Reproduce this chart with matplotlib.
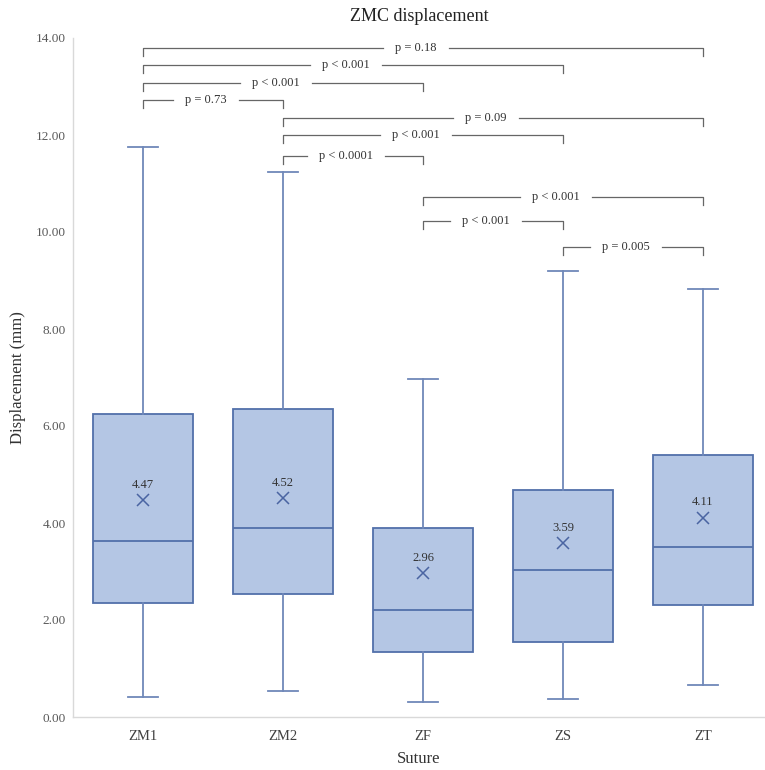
import matplotlib
matplotlib.use("Agg")
import matplotlib.pyplot as plt

plt.rcParams['font.family'] = ['Liberation Serif', 'DejaVu Serif']

# data
sutures = ['ZM1', 'ZM2', 'ZF', 'ZS', 'ZT']
whislo = [0.41, 0.54, 0.31, 0.37, 0.66]
q1 = [2.35, 2.54, 1.34, 1.55, 2.31]
med = [3.63, 3.90, 2.21, 3.03, 3.51]
q3 = [6.25, 6.35, 3.90, 4.68, 5.40]
whishi = [11.75, 11.24, 6.97, 9.20, 8.82]
means = [4.47, 4.52, 2.96, 3.59, 4.11]

# significance brackets (group index from 1)
pair_left = [1, 1, 1, 1, 2, 2, 2, 3, 3, 4]
pair_right = [5, 4, 3, 2, 5, 4, 3, 5, 4, 5]
bracket_y = [13.79, 13.44, 13.07, 12.72, 12.35, 12.00, 11.57, 10.72, 10.23, 9.69]
p_labels = ['p = 0.18', 'p < 0.001', 'p < 0.001', 'p = 0.73', 'p = 0.09',
            'p < 0.001', 'p < 0.0001', 'p < 0.001', 'p < 0.001', 'p = 0.005']

fill = '#b4c6e4'
edge = '#5270aa'
whisk = '#6f88b9'
grey = '#d9d9d9'

fig = plt.figure(figsize=(7.65, 7.70), dpi=100)
ax = fig.add_axes([73/765, 1-717/770, 1-73/765, (717-38)/770])

stats = []
for i in range(len(sutures)):
    stats.append(dict(label=sutures[i], whislo=whislo[i], q1=q1[i], med=med[i],
                      q3=q3[i], whishi=whishi[i], mean=means[i], fliers=[]))

pos = list(range(1, len(sutures) + 1))
ax.bxp(stats, positions=pos, widths=0.714, patch_artist=True, showmeans=True,
       capwidths=0.21,
       boxprops=dict(facecolor=fill, edgecolor=edge, linewidth=1.3),
       medianprops=dict(color=edge, linewidth=1.3),
       whiskerprops=dict(color=whisk, linewidth=1.3),
       capprops=dict(color=whisk, linewidth=1.3),
       meanprops=dict(marker='x', markeredgecolor='#4a64a2', markersize=8,
                      markeredgewidth=1.1))

for x, m in zip(pos, means):
    ax.annotate('%.2f' % m, (x, m), xytext=(0, 11), textcoords='offset points',
                ha='center', va='center', fontsize=9, color='#333333')

ax.set_xlim(0.5, 0.5 + (765 - 73) / 140)
ax.set_ylim(0, 14)
ax.set_yticks([0, 2, 4, 6, 8, 10, 12, 14])
ax.set_yticklabels(['%.2f' % v for v in [0, 2, 4, 6, 8, 10, 12, 14]])
ax.set_xticks(pos)
ax.set_xticklabels(sutures)
ax.tick_params(axis='y', length=0, pad=5, labelsize=9.5, labelcolor='#595959')
ax.tick_params(axis='x', length=0, pad=9, labelsize=10.5, labelcolor='#404040')
for s in ['top', 'right']:
    ax.spines[s].set_visible(False)
for s in ['left', 'bottom']:
    ax.spines[s].set_color(grey)
    ax.spines[s].set_linewidth(1.0)

ax.set_title('ZMC displacement', fontsize=13, color='#222222', pad=12)
ax.set_ylabel('Displacement (mm)', fontsize=12, color='#333333', labelpad=7)
ax.set_xlabel('Suture', fontsize=12, color='#333333', labelpad=6)

# brackets with a gap around the p-value text
fig.canvas.draw()
renderer = fig.canvas.get_renderer()
inv = ax.transData.inverted()
drop = 0.16
for a, b, y, lab in zip(pair_left, pair_right, bracket_y, p_labels):
    mid = (a + b) / 2 - 0.05
    t = ax.text(mid, y, lab, ha='center', va='center', fontsize=9,
                color='#333333')
    bb = t.get_window_extent(renderer)
    x0 = inv.transform((bb.x0 - 12, 0))[0]
    x1 = inv.transform((bb.x1 + 12, 0))[0]
    ax.plot([a, a, x0], [y - drop, y, y], color='#666666', lw=0.9)
    ax.plot([x1, b, b], [y, y, y - drop], color='#666666', lw=0.9)

fig.savefig('out.png', dpi=100)
